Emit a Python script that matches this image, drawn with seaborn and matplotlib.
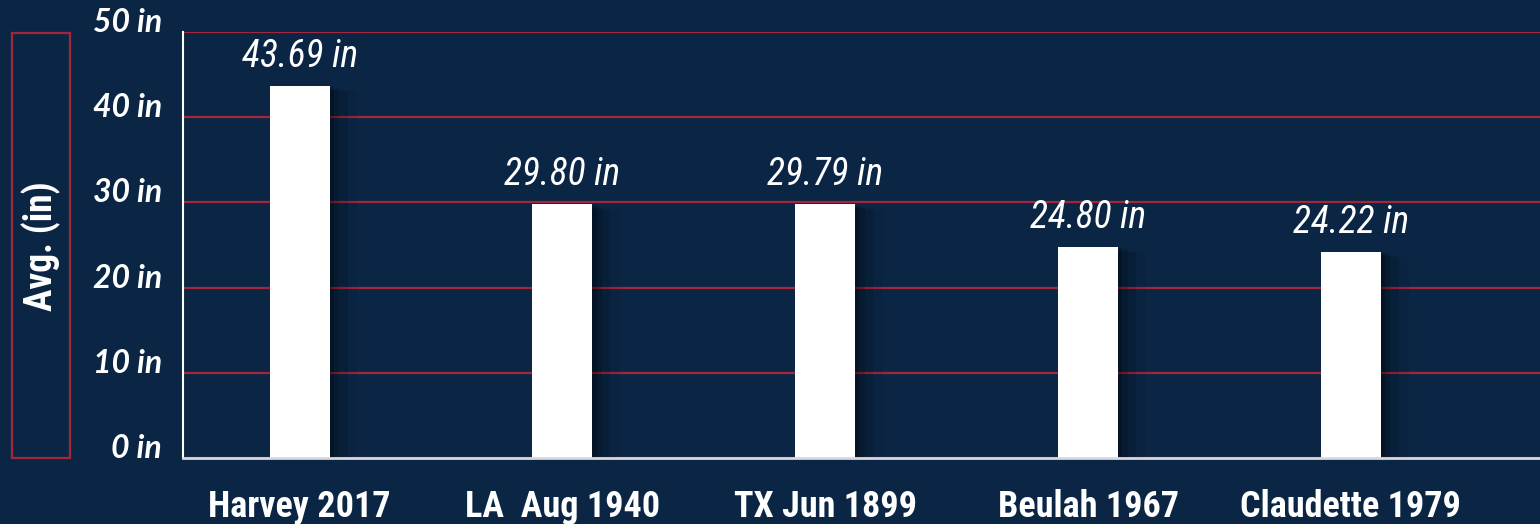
import matplotlib
matplotlib.use('Agg')
import matplotlib.pyplot as plt
import matplotlib.patheffects as pe
from matplotlib import font_manager
from matplotlib.patches import Rectangle
import seaborn as sns

# Data
storms = ['Harvey 2017', 'LA  Aug 1940', 'TX Jun 1899', 'Beulah 1967', 'Claudette 1979']
rain_in = [43.69, 29.80, 29.79, 24.80, 24.22]
y_ticks = [0, 10, 20, 30, 40, 50]
y_tick_labels = ['0 in', '10 in', '20 in', '30 in', '40 in', '50 in']

BG = '#0b2645'
RED = '#a3263b'

sns.set_style('dark', {'axes.facecolor': BG, 'figure.facecolor': BG})
plt.rcParams['font.family'] = ['Lato', 'DejaVu Sans']

# pick a condensed face if one is installed
fonts = font_manager.fontManager.ttflist
names = {f.name for f in fonts}
narrow = None
for cand in ['Roboto Condensed', 'Liberation Sans Narrow', 'Open Sans Condensed', 'Noto Sans Condensed']:
    if cand in names:
        narrow = dict(family=[cand, 'DejaVu Sans'])
        break
if narrow is None:
    if any(f.name == 'DejaVu Sans' and f.stretch == 'condensed' for f in fonts):
        narrow = dict(family=['DejaVu Sans'], stretch='condensed')
    else:
        narrow = dict(family=['Roboto', 'DejaVu Sans'])

fig = plt.figure(figsize=(15.4, 5.24), dpi=100)
ax = fig.add_axes([183 / 1540, 66 / 524, 1 - 183 / 1540, 426 / 524])

sns.barplot(x=storms, y=rain_in, color='white', saturation=1, width=0.228, ax=ax)

# soft shadow to the right of each bar
for bar in ax.patches:
    bar.set_linewidth(0)
    bar.set_path_effects([
        pe.SimplePatchShadow(offset=(20, -4), shadow_rgbFace='black', alpha=0.07),
        pe.SimplePatchShadow(offset=(13, -3), shadow_rgbFace='black', alpha=0.10),
        pe.SimplePatchShadow(offset=(7, -2), shadow_rgbFace='black', alpha=0.15),
        pe.SimplePatchShadow(offset=(3, -1), shadow_rgbFace='black', alpha=0.2),
        pe.Normal(),
    ])

ax.bar_label(ax.containers[0], fmt='{:.2f} in', padding=8, color='white',
             fontsize=27, style='italic', fontweight='normal', **narrow)

ax.set_ylim(0, 50)
ax.set_xlim(-0.444, 4.72)
ax.set_yticks(y_ticks)
ax.set_yticklabels(y_tick_labels, fontsize=23, fontweight='bold', style='italic',
                   color='white', va='baseline')
ax.tick_params(axis='y', length=0, pad=15)
ax.tick_params(axis='x', length=0, pad=22, colors='white')
for lab in ax.get_xticklabels():
    lab.set_fontproperties(font_manager.FontProperties(size=26, weight='bold', **narrow))

ax.set_axisbelow(True)
ax.yaxis.grid(True, color=RED, linewidth=1.6)
ax.xaxis.grid(False)
for side in ['top', 'right']:
    ax.spines[side].set_visible(False)
ax.spines['left'].set_color('white')
ax.spines['left'].set_linewidth(1.5)
ax.spines['bottom'].set_color('#d5d9df')
ax.spines['bottom'].set_linewidth(2)
ax.set_ylabel('')

# boxed y label
fig.patches.append(Rectangle((12 / 1540, 66 / 524), 58 / 1540, 425 / 524,
                             transform=fig.transFigure, fill=False,
                             edgecolor=RED, linewidth=1.6))
fig.text(41 / 1540, 0.53, 'Avg. (in)', rotation=90, ha='center', va='center',
         color='white', fontsize=27, fontweight='bold', **narrow)

fig.savefig('out.png', dpi=100, facecolor=BG)
